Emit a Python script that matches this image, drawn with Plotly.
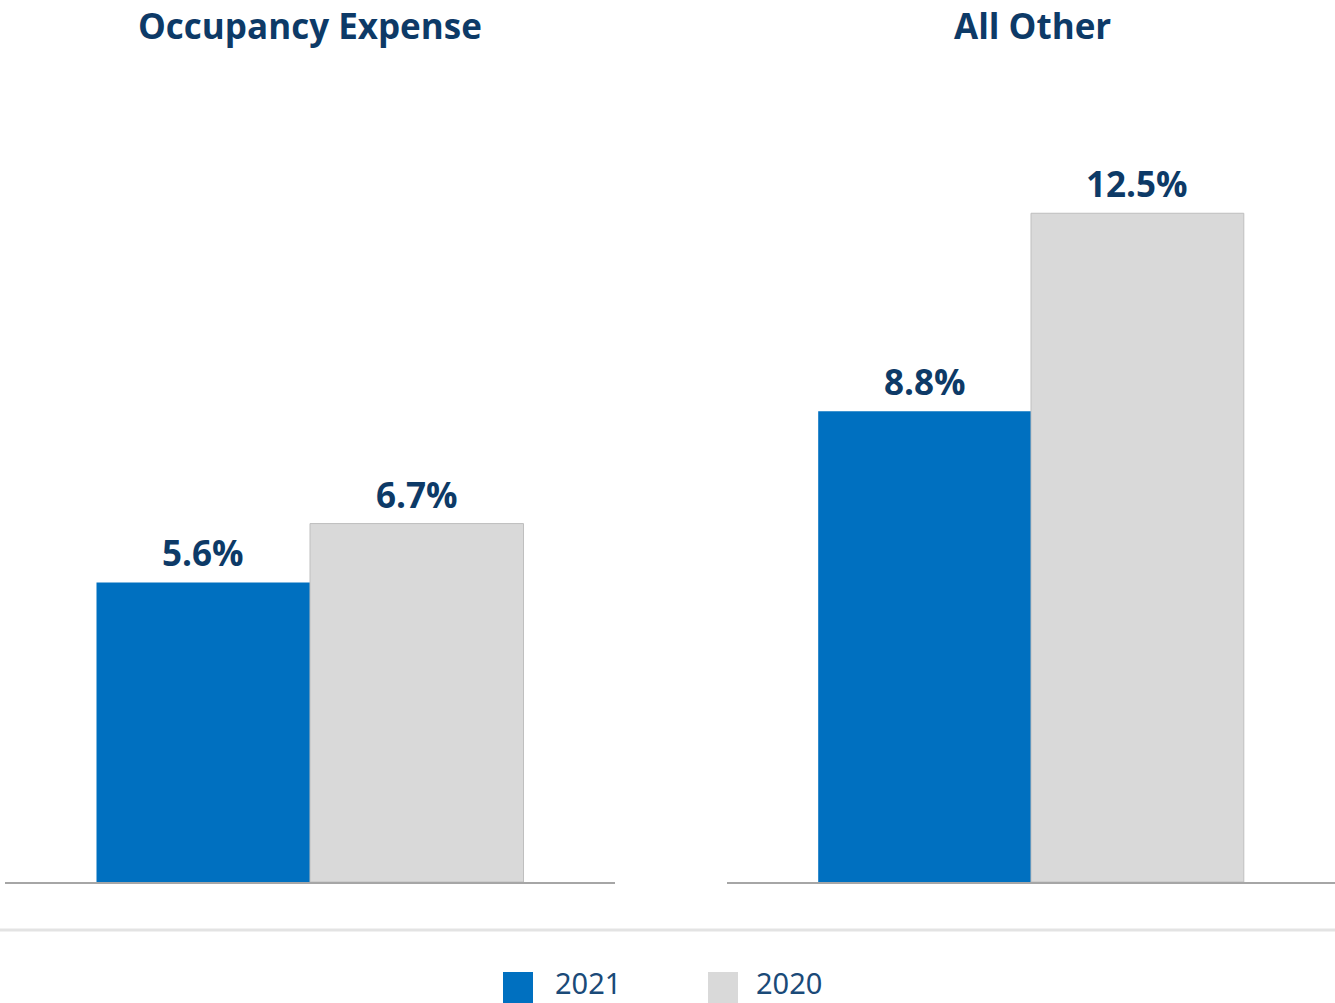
import plotly.graph_objects as go
from plotly.subplots import make_subplots

# Expense ratios (% of revenue) by category and year
categories = ["Occupancy Expense", "All Other"]
years = ["2021", "2020"]
values_2021 = [5.6, 8.8]
values_2020 = [6.7, 12.5]
value_labels_2021 = ["5.6%", "8.8%"]
value_labels_2020 = ["6.7%", "12.5%"]

BLUE = "#0070C0"
GRAY = "#D9D9D9"
NAVY = "#0D3A67"
LEGEND_TEXT = "#1A4A78"

W, H = 1335, 1003
ML, MR, MT, MB = 5, 0, 133, 121
PW, PH = W - ML - MR, H - MT - MB
Y_MAX = 14


def px_x(x):
    return (x - ML) / PW


def px_y(y):
    return (H - MB - y) / PH


fig = make_subplots(rows=1, cols=2, horizontal_spacing=0.0843)

bar_w = 0.35
offsets = [-bar_w / 2, bar_w / 2]

for i, cat in enumerate(categories):
    col = i + 1
    fig.add_trace(
        go.Bar(
            x=[offsets[0]], y=[values_2021[i]], width=bar_w,
            marker=dict(color=BLUE, line=dict(width=0)),
            name=years[0], showlegend=False,
        ),
        row=1, col=col,
    )
    fig.add_trace(
        go.Bar(
            x=[offsets[1]], y=[values_2020[i]], width=bar_w,
            marker=dict(color=GRAY, line=dict(color="#BFBFBF", width=1)),
            name=years[1], showlegend=False,
        ),
        row=1, col=col,
    )
    xref = "x" if col == 1 else f"x{col}"
    yref = "y" if col == 1 else f"y{col}"
    for xo, v, t in [(offsets[0], values_2021[i], value_labels_2021[i]),
                     (offsets[1], values_2020[i], value_labels_2020[i])]:
        fig.add_annotation(
            x=xo, y=v, xref=xref, yref=yref, text=t, showarrow=False,
            yanchor="bottom", yshift=4,
            font=dict(family="Open Sans", size=35, color=NAVY, weight="bold"),
        )

# Panel domains
fig.update_xaxes(range=[-0.5, 0.5], showticklabels=False, ticks="",
                 showgrid=False, zeroline=False, showline=True,
                 linecolor="#A6A6A6", linewidth=2)
fig.update_yaxes(range=[0, Y_MAX], showticklabels=False, ticks="",
                 showgrid=False, zeroline=False, showline=False)
fig.update_layout(
    xaxis=dict(domain=[0, px_x(615)]),
    xaxis2=dict(domain=[px_x(727), 1.0]),
)

# Panel titles
for cat, cx in zip(categories, [310, 1032]):
    fig.add_annotation(
        x=px_x(cx), y=px_y(25), xref="paper", yref="paper",
        text=cat, showarrow=False, xanchor="center", yanchor="middle",
        font=dict(family="Open Sans", size=35, color=NAVY, weight="bold"),
    )

# Divider above the legend
fig.add_shape(type="line", xref="paper", yref="paper",
              x0=px_x(0), x1=px_x(W), y0=px_y(930), y1=px_y(930),
              line=dict(color="#E3E3E3", width=3))

# Legend drawn as swatches and labels
for year, color, sx, tx in [(years[0], BLUE, 503, 553), (years[1], GRAY, 708, 754)]:
    fig.add_shape(type="rect", xref="paper", yref="paper",
                  x0=px_x(sx), x1=px_x(sx + 30), y0=px_y(1003), y1=px_y(972),
                  fillcolor=color, line=dict(width=0))
    fig.add_annotation(
        x=px_x(tx), y=px_y(982), xref="paper", yref="paper",
        text=year, showarrow=False, xanchor="left", yanchor="middle",
        font=dict(family="Noto Sans", size=29, color=LEGEND_TEXT),
    )

fig.update_layout(
    width=W, height=H,
    margin=dict(l=ML, r=MR, t=MT, b=MB, pad=0),
    plot_bgcolor="white", paper_bgcolor="white",
    barmode="overlay", showlegend=False,
)

fig.write_html("out.html")
